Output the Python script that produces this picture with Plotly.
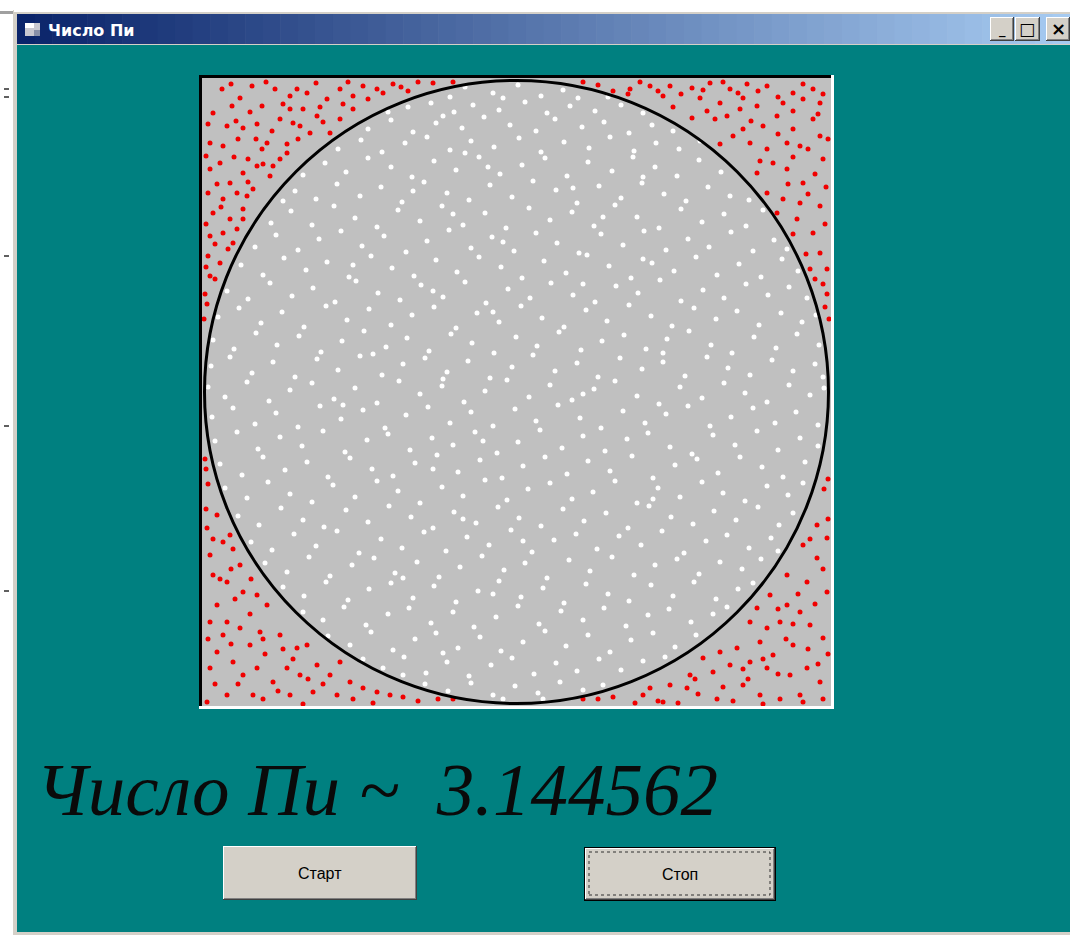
import plotly.graph_objects as go

# ---------------- data (picture-box units, y grows downward) ----------------
box_width = 627
box_height = 626
pi_estimate = "3.144562"
window_title = "Число Пи"
label_text = "Число Пи ~"
button_labels = ["Старт", "Стоп"]

# points that fell outside the circle (drawn red)
red_points = [
    (19, 10), (37, 19), (49, 7), (59, 27), (72, 10), (87, 17), (94, 10), (104, 14), (124, 20),
    (137, 10), (150, 17), (160, 7), (174, 10), (10, 34), (24, 47), (40, 49), (54, 45), (64, 64),
    (77, 40), (87, 30), (97, 47), (114, 37), (127, 54), (137, 40), (150, 30), (7, 64), (20, 67),
    (35, 60), (45, 80), (59, 70), (70, 87), (84, 65), (77, 80), (84, 74), (107, 54), (7, 90),
    (17, 84), (27, 104), (40, 94), (54, 87), (67, 97), (5, 114), (20, 120), (34, 114), (44, 117),
    (10, 134), (27, 140), (40, 130), (7, 157), (20, 154), (34, 150), (5, 177), (17, 184), (30, 164),
    (7, 197), (12, 200),
    (28, 5), (63, 3), (113, 4), (145, 3), (180, 14), (29, 27), (47, 33), (80, 25), (117, 28),
    (165, 20), (5, 45), (33, 42), (69, 52), (90, 44), (120, 43), (3, 77), (31, 78), (53, 60),
    (95, 60), (14, 105), (45, 103), (60, 85), (3, 145), (18, 128), (50, 110), (40, 140),
    (25, 170), (3, 188), (12, 165), (100, 30), (140, 25), (198, 8), (215, 3),
    (190, 5), (205, 12), (230, 4), (250, 3), (395, 6), (410, 12), (380, 3), (425, 15),
    (2, 215), (4, 225), (1, 240), (3, 390), (5, 405), (2, 380),
    (624, 215), (622, 228), (625, 400), (621, 410), (626, 240),
    (200, 618), (215, 622), (235, 620), (250, 620), (380, 620), (395, 620), (410, 618),
    (427, 10), (447, 7), (467, 7), (489, 9), (507, 4), (527, 10), (544, 5), (564, 7), (590, 14),
    (610, 10), (617, 24), (460, 17), (497, 19), (517, 24), (540, 19), (554, 27), (580, 24),
    (600, 20), (489, 39), (504, 32), (524, 37), (537, 30), (560, 47), (574, 37), (590, 50),
    (610, 40), (517, 65), (530, 57), (547, 64), (564, 70), (584, 64), (597, 67), (617, 57),
    (554, 94), (570, 84), (584, 90), (600, 104), (620, 80), (564, 114), (580, 120), (597, 124),
    (617, 127), (574, 134), (594, 140), (610, 154), (617, 174), (624, 190), (607, 190),
    (437, 3), (455, 12), (478, 15), (500, 11), (520, 3), (535, 14), (555, 12), (575, 18),
    (600, 5), (620, 15), (470, 28), (512, 40), (548, 42), (590, 32), (615, 35), (540, 50),
    (575, 55), (605, 70), (625, 60), (557, 82), (590, 78), (612, 95), (623, 108), (585, 105),
    (605, 115), (590, 155), (622, 145), (603, 175), (620, 205), (612, 200),
    (4, 449), (20, 463), (7, 476), (10, 496), (24, 503), (37, 486), (40, 513), (54, 516),
    (64, 526), (14, 526), (24, 543), (7, 543), (37, 549), (57, 553), (47, 566), (77, 556),
    (94, 569), (104, 566), (20, 556), (14, 573), (30, 583), (7, 589), (40, 596), (54, 589),
    (70, 603), (84, 589), (97, 596), (114, 586), (127, 596), (137, 583), (147, 603), (160, 609),
    (174, 613), (187, 616), (24, 616), (50, 616), (87, 616), (110, 613), (134, 616), (4, 623),
    (14, 436), (27, 456),
    (3, 430), (10, 460), (30, 470), (17, 500), (32, 520), (47, 535), (5, 560), (28, 565),
    (62, 575), (90, 580), (12, 605), (35, 605), (60, 620), (75, 612), (100, 625), (120, 605),
    (150, 620), (170, 624), (105, 600), (60, 560), (80, 570), (48, 500), (28, 490),
    (614, 446), (624, 459), (600, 466), (614, 479), (584, 496), (604, 503), (624, 513),
    (567, 516), (584, 526), (597, 533), (554, 529), (547, 543), (564, 549), (577, 543),
    (607, 546), (620, 559), (557, 563), (534, 569), (517, 573), (570, 576), (590, 566),
    (547, 583), (564, 589), (604, 589), (500, 579), (487, 596), (510, 593), (527, 586),
    (587, 596), (617, 603), (447, 609), (467, 606), (484, 609), (540, 606), (557, 616),
    (577, 620), (597, 616), (514, 620), (440, 616), (460, 623),
    (625, 440), (607, 460), (620, 490), (595, 515), (612, 525), (575, 530), (590, 545),
    (625, 575), (605, 570), (575, 595), (545, 600), (520, 608), (495, 615), (475, 624),
    (530, 622), (560, 625), (600, 623), (620, 620), (615, 585), (583, 560), (560, 580),
    (540, 590), (492, 600), (455, 622), (432, 624),
]

# points that fell inside the circle (drawn white)
white_points = [
    (262, 8), (290, 14), (315, 6), (338, 17), (360, 11), (247, 18), (375, 19), (300, 19), (405, 18),
    (205, 28), (228, 24), (251, 33), (270, 26), (296, 31), (322, 23), (344, 34), (367, 27),
    (392, 32), (418, 26), (440, 34), (185, 33),
    (165, 50), (188, 41), (210, 53), (233, 44), (259, 49), (281, 38), (307, 46), (333, 52),
    (352, 40), (379, 48), (401, 43), (426, 54), (449, 46), (470, 52), (240, 37),
    (135, 70), (158, 61), (179, 73), (202, 64), (224, 58), (247, 71), (268, 62), (291, 68),
    (316, 59), (338, 73), (361, 63), (386, 69), (407, 58), (431, 72), (453, 64), (476, 70),
    (497, 62), (262, 74),
    (100, 96), (122, 84), (143, 93), (165, 79), (188, 88), (209, 98), (231, 82), (253, 91),
    (276, 78), (297, 95), (319, 86), (342, 79), (364, 97), (385, 83), (409, 92), (430, 78),
    (452, 88), (474, 97), (496, 81), (518, 93), (285, 88), (440, 98),
    (92, 112), (113, 120), (134, 105), (157, 117), (178, 108), (199, 123), (221, 103), (244, 114),
    (266, 121), (287, 106), (309, 118), (330, 102), (353, 111), (374, 124), (396, 107), (418, 119),
    (439, 104), (461, 115), (483, 122), (505, 108), (527, 117), (546, 121), (80, 122), (210, 112),
    (370, 109),
    (68, 144), (88, 132), (109, 146), (131, 127), (152, 139), (174, 148), (195, 131), (217, 142),
    (239, 127), (260, 146), (282, 134), (303, 149), (326, 129), (347, 141), (369, 133), (391, 147),
    (412, 126), (434, 138), (456, 149), (478, 130), (499, 143), (521, 135), (543, 147), (560, 131),
    (250, 135), (400, 138),
    (52, 168), (73, 156), (95, 171), (116, 160), (138, 152), (159, 167), (181, 157), (203, 173),
    (224, 162), (246, 151), (268, 169), (289, 158), (311, 172), (333, 154), (354, 164), (376, 174),
    (398, 155), (420, 166), (441, 152), (463, 171), (485, 160), (506, 168), (528, 153), (550, 172),
    (571, 161), (584, 170), (300, 163),
    (38, 186), (60, 196), (81, 179), (103, 191), (124, 183), (146, 198), (168, 177), (189, 189),
    (211, 197), (233, 181), (254, 193), (276, 178), (298, 188), (319, 199), (341, 182), (363, 194),
    (384, 176), (406, 187), (428, 199), (449, 184), (471, 192), (493, 178), (514, 196), (536, 185),
    (558, 198), (579, 180), (595, 192), (440, 180), (150, 186),
    (24, 212), (45, 220), (67, 204), (89, 217), (110, 209), (132, 223), (153, 202), (175, 214),
    (197, 221), (218, 206), (240, 218), (262, 203), (283, 224), (305, 210), (327, 219), (348, 204),
    (370, 216), (392, 223), (413, 207), (435, 214), (457, 201), (478, 222), (500, 211), (521, 219),
    (543, 205), (565, 216), (586, 208), (604, 219), (230, 212), (380, 205),
    (15, 238), (36, 229), (58, 244), (79, 233), (101, 248), (123, 227), (144, 241), (166, 230),
    (188, 246), (209, 236), (231, 228), (253, 249), (274, 234), (296, 243), (318, 227), (339, 239),
    (361, 248), (383, 231), (404, 242), (426, 226), (448, 237), (469, 247), (491, 229), (513, 240),
    (534, 232), (556, 246), (578, 234), (599, 243), (613, 236), (290, 233),
    (10, 261), (31, 270), (53, 254), (74, 266), (96, 257), (118, 273), (139, 262), (161, 252),
    (183, 268), (204, 259), (226, 272), (248, 255), (269, 264), (291, 274), (313, 258), (334, 267),
    (356, 253), (378, 271), (399, 262), (421, 256), (443, 270), (464, 260), (486, 252), (508, 266),
    (529, 274), (551, 258), (573, 269), (594, 255), (616, 266), (170, 275), (460, 274),
    (8, 287), (27, 278), (49, 294), (70, 283), (92, 298), (114, 280), (135, 291), (157, 277),
    (179, 296), (200, 285), (222, 279), (244, 293), (265, 282), (287, 299), (309, 288), (330, 276),
    (352, 292), (374, 284), (395, 298), (417, 279), (439, 290), (460, 283), (482, 297), (504, 278),
    (525, 289), (547, 296), (569, 281), (590, 292), (612, 285), (620, 298), (240, 300),
    (5, 308), (22, 318), (44, 303), (66, 322), (87, 311), (109, 304), (131, 320), (152, 309),
    (174, 324), (196, 302), (217, 315), (239, 307), (261, 323), (282, 312), (304, 301), (326, 318),
    (347, 306), (369, 321), (391, 310), (412, 302), (434, 317), (456, 325), (477, 308), (499, 319),
    (521, 304), (542, 314), (564, 323), (586, 306), (607, 316), (621, 309), (380, 315),
    (9, 338), (30, 329), (52, 345), (73, 334), (95, 348), (117, 327), (138, 340), (160, 331),
    (182, 349), (203, 336), (225, 328), (247, 344), (268, 333), (290, 347), (312, 330), (333, 342),
    (355, 326), (377, 339), (398, 349), (420, 332), (442, 344), (463, 335), (485, 327), (507, 347),
    (528, 338), (550, 329), (572, 344), (593, 333), (615, 346), (140, 326),
    (12, 362), (34, 353), (55, 370), (77, 358), (99, 367), (120, 352), (142, 373), (164, 361),
    (185, 355), (207, 371), (229, 359), (250, 366), (272, 353), (294, 374), (315, 363), (337, 351),
    (359, 369), (380, 357), (402, 372), (424, 360), (445, 354), (467, 368), (489, 375), (510, 356),
    (532, 366), (554, 352), (575, 371), (597, 359), (615, 367), (280, 362),
    (17, 385), (39, 396), (60, 378), (82, 391), (104, 383), (125, 398), (147, 379), (169, 390),
    (190, 397), (212, 384), (234, 376), (255, 393), (277, 381), (299, 399), (320, 387), (342, 378),
    (364, 395), (385, 382), (407, 392), (429, 377), (450, 399), (472, 386), (494, 380), (515, 394),
    (537, 378), (559, 388), (580, 398), (602, 383), (230, 390),
    (22, 409), (44, 419), (65, 403), (87, 415), (109, 423), (130, 406), (152, 418), (174, 402),
    (195, 412), (217, 424), (239, 408), (260, 417), (282, 401), (304, 421), (325, 410), (347, 404),
    (369, 420), (390, 413), (412, 402), (434, 424), (455, 409), (477, 418), (499, 403), (520, 414),
    (542, 422), (564, 407), (585, 416), (600, 404), (450, 420),
    (35, 437), (56, 446), (78, 429), (100, 441), (121, 448), (143, 431), (165, 443), (186, 427),
    (208, 438), (230, 449), (251, 433), (273, 444), (295, 428), (316, 439), (338, 447), (360, 430),
    (381, 442), (403, 434), (425, 449), (446, 427), (468, 438), (490, 445), (511, 432), (533, 441),
    (555, 428), (576, 446), (590, 434), (260, 440),
    (48, 463), (69, 471), (91, 455), (113, 467), (134, 452), (156, 474), (178, 460), (199, 469),
    (221, 453), (243, 472), (264, 458), (286, 466), (308, 451), (329, 473), (351, 461), (373, 455),
    (394, 470), (416, 457), (438, 466), (459, 452), (481, 474), (503, 462), (524, 456), (546, 469),
    (568, 459), (575, 472), (320, 462),
    (62, 484), (84, 493), (106, 478), (127, 497), (149, 486), (171, 479), (192, 494), (214, 483),
    (236, 498), (257, 488), (279, 477), (301, 491), (322, 484), (344, 499), (366, 481), (387, 492),
    (409, 478), (431, 496), (452, 486), (474, 480), (496, 495), (517, 483), (539, 490), (558, 480),
    (200, 499),
    (80, 508), (101, 517), (123, 503), (145, 521), (166, 510), (188, 504), (210, 519), (231, 507),
    (253, 523), (275, 512), (296, 502), (318, 518), (340, 509), (361, 524), (383, 505), (405, 515),
    (426, 522), (448, 506), (470, 517), (491, 503), (513, 520), (535, 510), (550, 504), (290, 515),
    (100, 533), (120, 541), (141, 528), (163, 546), (185, 535), (206, 529), (228, 544), (250, 533),
    (271, 548), (293, 538), (315, 527), (336, 545), (358, 532), (380, 541), (401, 529), (423, 547),
    (445, 536), (466, 530), (488, 543), (510, 535), (524, 528),
    (125, 557), (147, 566), (168, 553), (190, 571), (212, 560), (233, 554), (255, 569), (277, 558),
    (298, 572), (320, 563), (342, 552), (363, 567), (385, 556), (407, 573), (428, 561), (450, 554),
    (472, 568), (493, 556), (240, 574),
    (160, 580), (180, 589), (201, 578), (223, 594), (244, 583), (266, 597), (288, 586), (309, 579),
    (331, 595), (353, 584), (374, 592), (396, 580), (418, 591), (440, 582), (462, 578), (200, 596),
    (222, 605), (245, 612), (268, 604), (290, 616), (312, 607), (335, 614), (357, 603), (380, 611),
    (400, 606), (300, 620), (340, 620),
]

red_x = [p[0] for p in red_points]
red_y = [p[1] for p in red_points]
white_x = [p[0] for p in white_points]
white_y = [p[1] for p in white_points]

# ---------------- layout helpers (pixel -> paper) ----------------
W, H = 1070, 935
TEAL = "#008080"
FACE = "#D4D0C8"


def px(x):
    return x / W


def py(y):
    return 1 - y / H


shapes = []


def rect(x0, y0, x1, y1, fill=None, line_color=None, line_width=0, dash=None, layer="below"):
    line = dict(width=line_width)
    if line_color:
        line["color"] = line_color
    if dash:
        line["dash"] = dash
    s = dict(type="rect", xref="paper", yref="paper",
             x0=px(x0), x1=px(x1), y0=py(y1), y1=py(y0),
             line=line, layer=layer)
    s["fillcolor"] = fill if fill else "rgba(0,0,0,0)"
    shapes.append(s)


# window frame + client area
rect(13, 10, 1070, 935, fill=FACE)
rect(14, 10, 1070, 12, fill="#FFFFFF")
rect(0, 11, 13, 14, fill="#A0A0A0")
rect(17, 45, 1070, 932, fill=TEAL)

# title bar gradient
c0 = (10, 36, 106)
c1 = (166, 202, 240)
n = 60
x_start, x_end = 17, 1070
for i in range(n):
    t = i / (n - 1)
    col = tuple(int(round(c0[k] + (c1[k] - c0[k]) * t)) for k in range(3))
    xa = x_start + (x_end - x_start) * i / n
    xb = x_start + (x_end - x_start) * (i + 1) / n + 0.6
    rect(xa, 14, xb, 44, fill="rgb(%d,%d,%d)" % col)

# title icon
rect(25, 23, 40, 36, fill="#C8C8D0")
rect(25, 23, 34, 28, fill="#FFFFFF")
rect(34, 30, 40, 36, fill="#8890A8")

# title bar buttons
title_btns = [(990, 1014), (1015, 1040), (1046, 1070)]
for bx0, bx1 in title_btns:
    rect(bx0, 17, bx1, 41, fill="#404040")
    rect(bx0, 17, bx1 - 1, 40, fill="#FFFFFF")
    rect(bx0 + 1, 18, bx1 - 1, 40, fill="#808080")
    rect(bx0 + 1, 18, bx1 - 2, 39, fill=FACE)

# left-edge little marks
for my in [88, 96, 255, 425, 590]:
    rect(4, my, 9, my + 2, fill="#606060")

# picture box sunken border
rect(199, 75, 834, 709, fill="#FFFFFF")
rect(199, 75, 831, 706, fill="#000000")
rect(202, 78, 831, 706, fill="#C0C0C0")


# buttons
def button(x0, y0, x1, y1, default=False):
    if default:
        rect(x0, y0, x1, y1, fill="#000000")
        x0, y0, x1, y1 = x0 + 1, y0 + 1, x1 - 1, y1 - 1
    rect(x0, y0, x1, y1, fill="#404040")
    rect(x0, y0, x1 - 1, y1 - 1, fill="#FFFFFF")
    rect(x0 + 1, y0 + 1, x1 - 1, y1 - 1, fill="#808080")
    rect(x0 + 1, y0 + 1, x1 - 2, y1 - 2, fill=FACE)
    if default:
        rect(x0 + 4, y0 + 4, x1 - 5, y1 - 5, line_color="#303030", line_width=1, dash="dot")


button(223, 846, 417, 900)
button(584, 847, 776, 901, default=True)

# circle drawn over the points
shapes.append(dict(type="circle", xref="x", yref="y",
                   x0=1.5, x1=box_width - 1.5, y0=1.5, y1=box_height - 1.5,
                   line=dict(color="#000000", width=3), layer="above"))

fig = go.Figure()
fig.add_trace(go.Scatter(x=red_x, y=red_y, mode="markers",
                         marker=dict(color="#F00000", size=5, line=dict(width=0)),
                         hoverinfo="skip", showlegend=False))
fig.add_trace(go.Scatter(x=white_x, y=white_y, mode="markers",
                         marker=dict(color="#FFFFFF", size=5, line=dict(width=0)),
                         hoverinfo="skip", showlegend=False))


def note(x, y, text, font, xanchor="center"):
    return dict(x=px(x), y=py(y), xref="paper", yref="paper", xanchor=xanchor,
                yanchor="middle", text=text, showarrow=False, font=font)


annotations = [
    note(46, 30, "<b>" + window_title + "</b>",
         dict(family="DejaVu Sans, Liberation Sans", size=16, color="#FFFFFF"), xanchor="left"),
    note(1002, 30, "<b>_</b>", dict(family="DejaVu Sans", size=13, color="#000000")),
    note(1027, 29, "□", dict(family="DejaVu Sans", size=17, color="#000000")),
    note(1058, 29, "<b>×</b>", dict(family="DejaVu Sans", size=18, color="#000000")),
    note(34, 789, label_text + "\u00a0\u00a0" + pi_estimate,
         dict(family="Liberation Serif, DejaVu Serif", size=75, color="#0A0A0A", style="italic"),
         xanchor="left"),
    note(320, 873, button_labels[0],
         dict(family="Liberation Sans Narrow, Liberation Sans, Arial", size=16, color="#000000")),
    note(680, 874, button_labels[1],
         dict(family="Liberation Sans Narrow, Liberation Sans, Arial", size=16, color="#000000")),
]

fig.update_layout(
    width=W, height=H,
    margin=dict(l=0, r=0, t=0, b=0),
    paper_bgcolor="#FFFFFF",
    plot_bgcolor="#C0C0C0",
    shapes=shapes,
    annotations=annotations,
    showlegend=False,
    xaxis=dict(domain=[px(202), px(831)], range=[-1, box_width + 1], visible=False,
               showgrid=False, zeroline=False, fixedrange=True),
    yaxis=dict(domain=[py(706), py(78)], range=[box_height + 1, -1], visible=False,
               showgrid=False, zeroline=False, fixedrange=True),
)

fig.write_html("out.html", config={"displayModeBar": False},
               post_script="document.body.style.margin='0px';document.body.style.overflow='hidden';")
